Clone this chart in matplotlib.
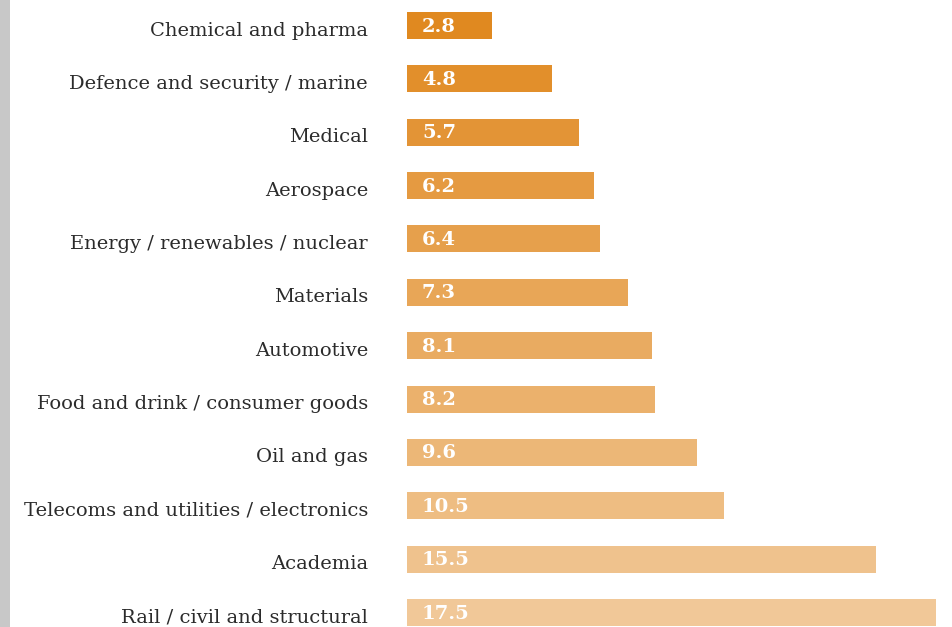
import numpy as np
import matplotlib
matplotlib.use("Agg")
import matplotlib.pyplot as plt
from matplotlib.colors import to_rgb

# categories, top to bottom
sectors = ["Chemical and pharma", "Defence and security / marine", "Medical",
           "Aerospace", "Energy / renewables / nuclear", "Materials",
           "Automotive", "Food and drink / consumer goods", "Oil and gas",
           "Telecoms and utilities / electronics", "Academia",
           "Rail / civil and structural"]
values = [2.8, 4.8, 5.7, 6.2, 6.4, 7.3, 8.1, 8.2, 9.6, 10.5, 15.5, 17.5]
value_labels = ["2.8", "4.8", "5.7", "6.2", "6.4", "7.3", "8.1", "8.2",
                "9.6", "10.5", "15.5", "17.5"]

# colour goes from dark orange at top to pale orange at bottom
c_top = np.array(to_rgb("#E08920"))
c_bot = np.array(to_rgb("#F1C898"))
n = len(values)
colors = [tuple(c_top + (c_bot - c_top) * i / (n - 1)) for i in range(n)]

W, H = 953, 627
fig = plt.figure(figsize=(W / 100, H / 100), dpi=100)

# grey strip on the left edge
strip = fig.add_axes([0, 0, 10 / W, 1])
strip.set_facecolor("#C8C8C8")
strip.set_xticks([])
strip.set_yticks([])
for s in strip.spines.values():
    s.set_visible(False)

ax = fig.add_axes([407 / W, 0, 529 / W, 1])
y = np.arange(n)
step = 53.36
ax.barh(y, values, height=27 / step, color=colors)
ax.set_xlim(0, 17.5)
ax.set_ylim((H - 25.5) / step, -25.5 / step)
ax.axis("off")

for i, (lab, v) in enumerate(zip(sectors, value_labels)):
    ax.text(-39 / 529 * 17.5, i + 5 / step, lab, ha="right", va="center",
            fontsize=14, family="DejaVu Serif", color="#2b2b2b")
    ax.text(15 / 529 * 17.5, i + 0.02, v, ha="left", va="center",
            fontsize=14, family="DejaVu Serif", fontweight="bold",
            color="white")

fig.savefig("out.png", dpi=100)
